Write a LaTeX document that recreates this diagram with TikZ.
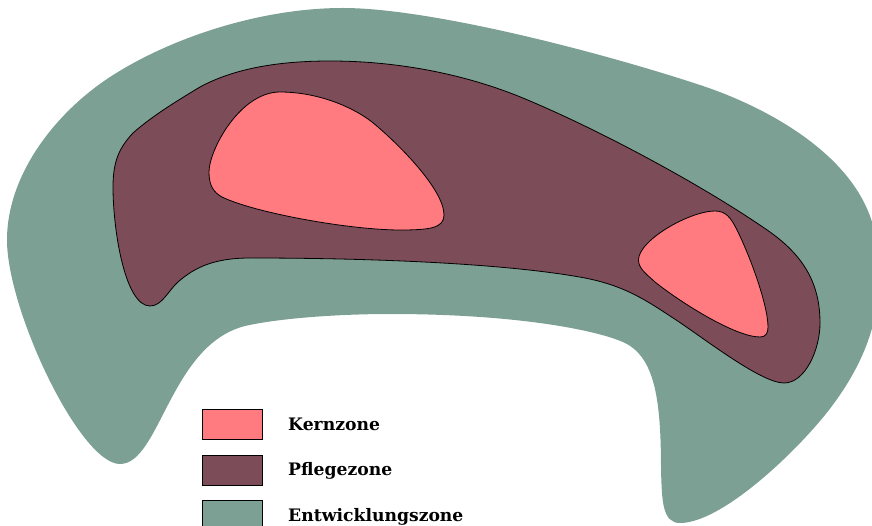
\documentclass[tikz,border=0pt]{standalone}
\usepackage{fontspec}
\setmainfont{DejaVu Serif}
\definecolor{kern}{HTML}{FF7B80}
\definecolor{pflege}{HTML}{7C4C58}
\definecolor{entw}{HTML}{7CA093}
\tikzset{
  swatch/.style={draw=black,line width=0.8pt,minimum width=60pt,minimum height=30pt,inner sep=0pt,anchor=north west},
  legendtext/.style={anchor=west,inner sep=0pt,font=\fontsize{17.2pt}{19pt}\selectfont\bfseries},
  zone/.style={draw=black,line width=0.8pt}
}
\begin{document}
\begin{tikzpicture}[x=1pt,y=-1pt]
\useasboundingbox (0,0) rectangle (872,526);
\clip (0,0) rectangle (872,526);
% Entwicklungszone
\fill[entw] (7,240)
  .. controls (7,175) and (55,113) .. (110,77)
  .. controls (170,38) and (260,8) .. (343,8)
  .. controls (430,8) and (600,52) .. (700,85)
  .. controls (770,108) and (865,160) .. (876,240)
  .. controls (888,310) and (865,365) .. (825,415)
  .. controls (790,458) and (720,523) .. (680,523)
  .. controls (662,523) and (662,500) .. (661,470)
  .. controls (661,400) and (655,358) .. (625,343)
  .. controls (600,331) and (520,314) .. (390,314)
  .. controls (340,314) and (280,318) .. (245,326)
  .. controls (170,345) and (160,464) .. (120,464)
  .. controls (80,464) and (7,310) .. (7,240) -- cycle;
% Pflegezone
\draw[zone,fill=pflege] (113,187)
  .. controls (113,160) and (120,147) .. (133,133)
  .. controls (150,118) and (170,105) .. (200,87)
  .. controls (235,68) and (280,61) .. (330,61)
  .. controls (400,61) and (470,75) .. (530,101)
  .. controls (610,135) and (710,190) .. (770,232)
  .. controls (805,257) and (820,285) .. (820,323)
  .. controls (820,350) and (805,383) .. (784,383)
  .. controls (760,383) and (700,335) .. (670,316)
  .. controls (640,296) and (620,285) .. (585,278)
  .. controls (510,264) and (380,258) .. (250,258)
  .. controls (215,258) and (195,267) .. (178,282)
  .. controls (168,291) and (162,306) .. (150,306)
  .. controls (125,306) and (113,230) .. (113,187) -- cycle;
% Kernzone 1
\draw[zone,fill=kern] (209,172)
  .. controls (209,150) and (240,92) .. (280,92)
  .. controls (315,92) and (350,105) .. (372,122)
  .. controls (400,145) and (444,190) .. (444,215)
  .. controls (444,228) and (430,230) .. (400,230)
  .. controls (350,230) and (255,213) .. (222,197)
  .. controls (213,192) and (209,185) .. (209,172) -- cycle;
% Kernzone 2
\draw[zone,fill=kern] (638.5,260)
  .. controls (638.5,240) and (690,211) .. (715,211)
  .. controls (726,211) and (731,218) .. (737,230)
  .. controls (750,256) and (768,305) .. (768,327)
  .. controls (768,333) and (766,337) .. (760,337)
  .. controls (735,337) and (680,302) .. (655,282)
  .. controls (645,273) and (638.5,268) .. (638.5,260) -- cycle;
% Legend
\node[swatch,fill=kern] (s1) at (202,408.5) {};
\node[swatch,fill=pflege] (s2) at (202,454.5) {};
\node[swatch,fill=entw] (s3) at (202,499.5) {};
\node[legendtext] (t1) at (288,424.5) {Kernzone};
\node[legendtext] (t2) at (288,471) {Pflegezone};
\node[legendtext] (t3) at (288,516.5) {Entwicklungszone};
\end{tikzpicture}
\end{document}
